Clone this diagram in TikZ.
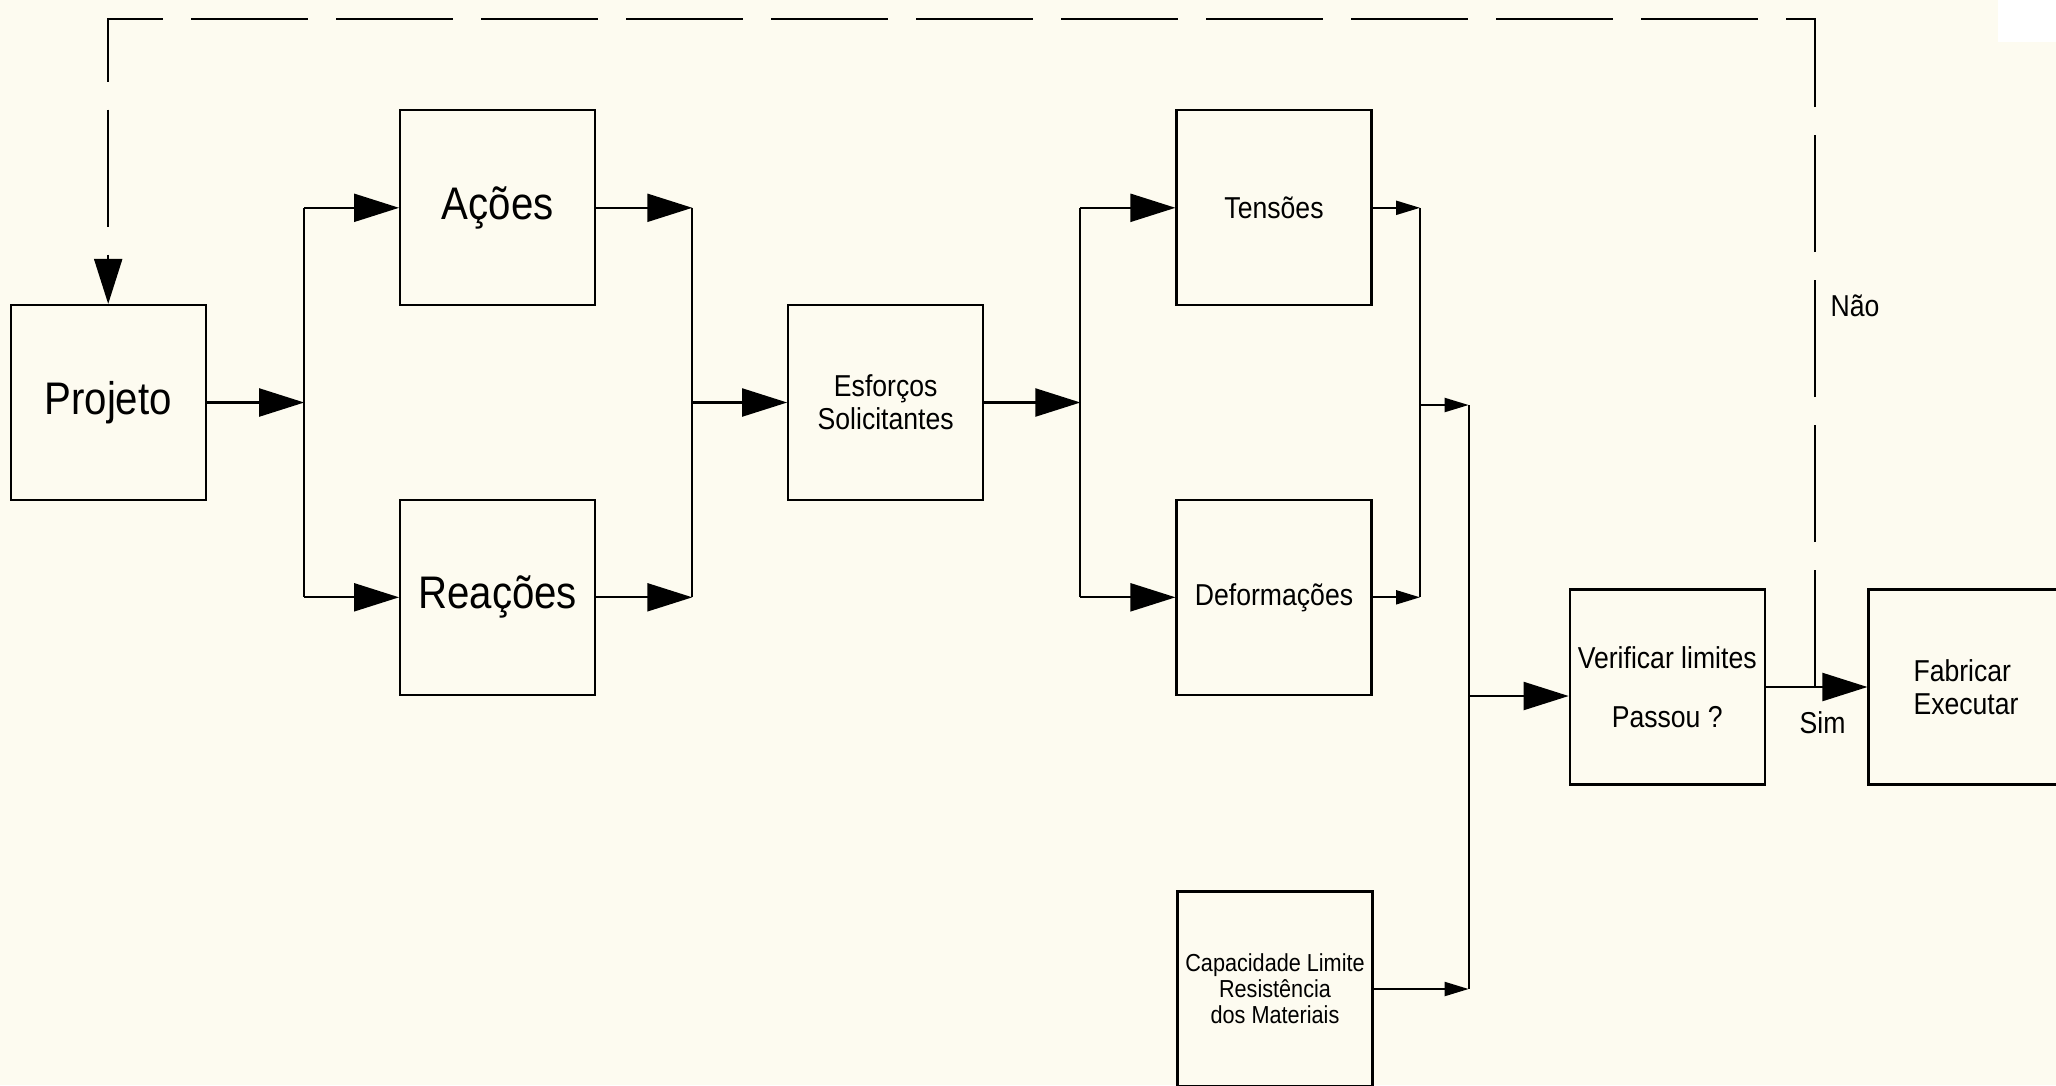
\documentclass[tikz,border=0pt]{standalone}
\usepackage{fontspec}
\setmainfont{Liberation Sans}[FakeStretch=0.88]
\usetikzlibrary{calc}
\usetikzlibrary{arrows.meta}
\definecolor{fundo}{RGB}{253,251,240}
\tikzstyle{caixa} = [rectangle, minimum width=1.95cm, minimum height=1.95cm,
text centered, align=center, inner sep=0pt, draw=black, line width=0.6pt]
\tikzstyle{linha} = [line width=0.6pt]
\tikzstyle{seta} = [line width=0.6pt,-{Triangle[length=4.5mm,width=2.8mm]}]
\tikzstyle{setinha} = [line width=0.6pt,-{Triangle[length=2.4mm,width=1.4mm]}]
\tikzstyle{tracejado} = [line width=0.6pt, dash pattern=on 1.17cm off 0.28cm]
\newcommand{\grande}{\fontsize{13}{15.6}\selectfont}
\newcommand{\medio}{\fontsize{8.6}{9.4}\selectfont}
\newcommand{\pequeno}{\fontsize{7}{7.45}\selectfont}

\begin{document}
\begin{tikzpicture}
	\useasboundingbox (0,0) rectangle (20.56,-10.85);
	\clip (0,0) rectangle (20.56,-10.85);
	\fill[fundo] (0,0) rectangle (20.56,-10.85);
	\fill[white] (19.98,0) rectangle (20.56,-0.42);
	% caixas
	\node (proj) at (1.082,-4.025) [caixa, font=\grande] {Projeto};
	\node (acoes) at (4.976,-2.078) [caixa, font=\grande] {Ações};
	\node (reac) at (4.976,-5.973) [caixa, font=\grande] {Reações};
	\node (esf) at (8.857,-4.025) [caixa, font=\medio] {Esforços\\Solicitantes};
	\node (tens) at (12.74,-2.078) [caixa, font=\medio] {Tensões};
	\node (deform) at (12.74,-5.973) [caixa, font=\medio] {Deformações};
	\node (capac) at (12.75,-9.89) [caixa, font=\pequeno] {Capacidade Limite\\Resistência\\dos Materiais};
	\node (verif) at (16.672,-6.87) [caixa, font=\medio] {Verificar limites\\[7.4pt]Passou ?};
	\node (fabr) at (19.66,-6.87) [caixa, font=\medio, align=left] {Fabricar\\Executar};
	% pontos de ligacao
	\coordinate (j1) at (3.042,-4.025);
	\coordinate (j2) at (6.923,-4.025);
	\coordinate (j3) at (10.804,-4.025);
	\coordinate (j4) at (14.2,-4.05);
	\coordinate (j5) at (14.686,-4.05);
	\coordinate (j6) at (14.686,-6.96);
	\coordinate (jn) at (18.147,-6.87);
	\coordinate (topo) at (1.082,-0.19);
	% setas
	\draw[seta] (proj) -- (j1);
	\draw[linha] (j1 |- acoes) -- (j1 |- reac);
	\draw[seta] (j1 |- acoes) -- (acoes);
	\draw[seta] (j1 |- reac) -- (reac);
	\draw[seta] (acoes) -- (acoes -| j2);
	\draw[seta] (reac) -- (reac -| j2);
	\draw[linha] (j2 |- acoes) -- (j2 |- reac);
	\draw[seta] (j2) -- (esf);
	\draw[seta] (esf) -- (j3);
	\draw[linha] (j3 |- tens) -- (j3 |- deform);
	\draw[seta] (j3 |- tens) -- (tens);
	\draw[seta] (j3 |- deform) -- (deform);
	\draw[setinha] (tens) -- (tens -| j4);
	\draw[setinha] (deform) -- (deform -| j4);
	\draw[linha] (j4 |- tens) -- (j4 |- deform);
	\draw[setinha] (j4) -- (j5);
	\draw[linha] (j5) -- (j5 |- capac);
	\draw[setinha] (capac) -- (capac -| j5);
	\draw[seta] (j6) -- (j6 -| verif.west);
	\draw[seta] (verif) -- (fabr);
	\draw[tracejado, seta] (jn) |- (topo) -- (proj);
	% rotulos
	\node (sim) at (18.226,-7.225) [font=\medio] {Sim};
	\node[right, inner sep=0pt] (nao) at (18.30,-3.055) [font=\medio] {Não};
\end{tikzpicture}
\end{document}
